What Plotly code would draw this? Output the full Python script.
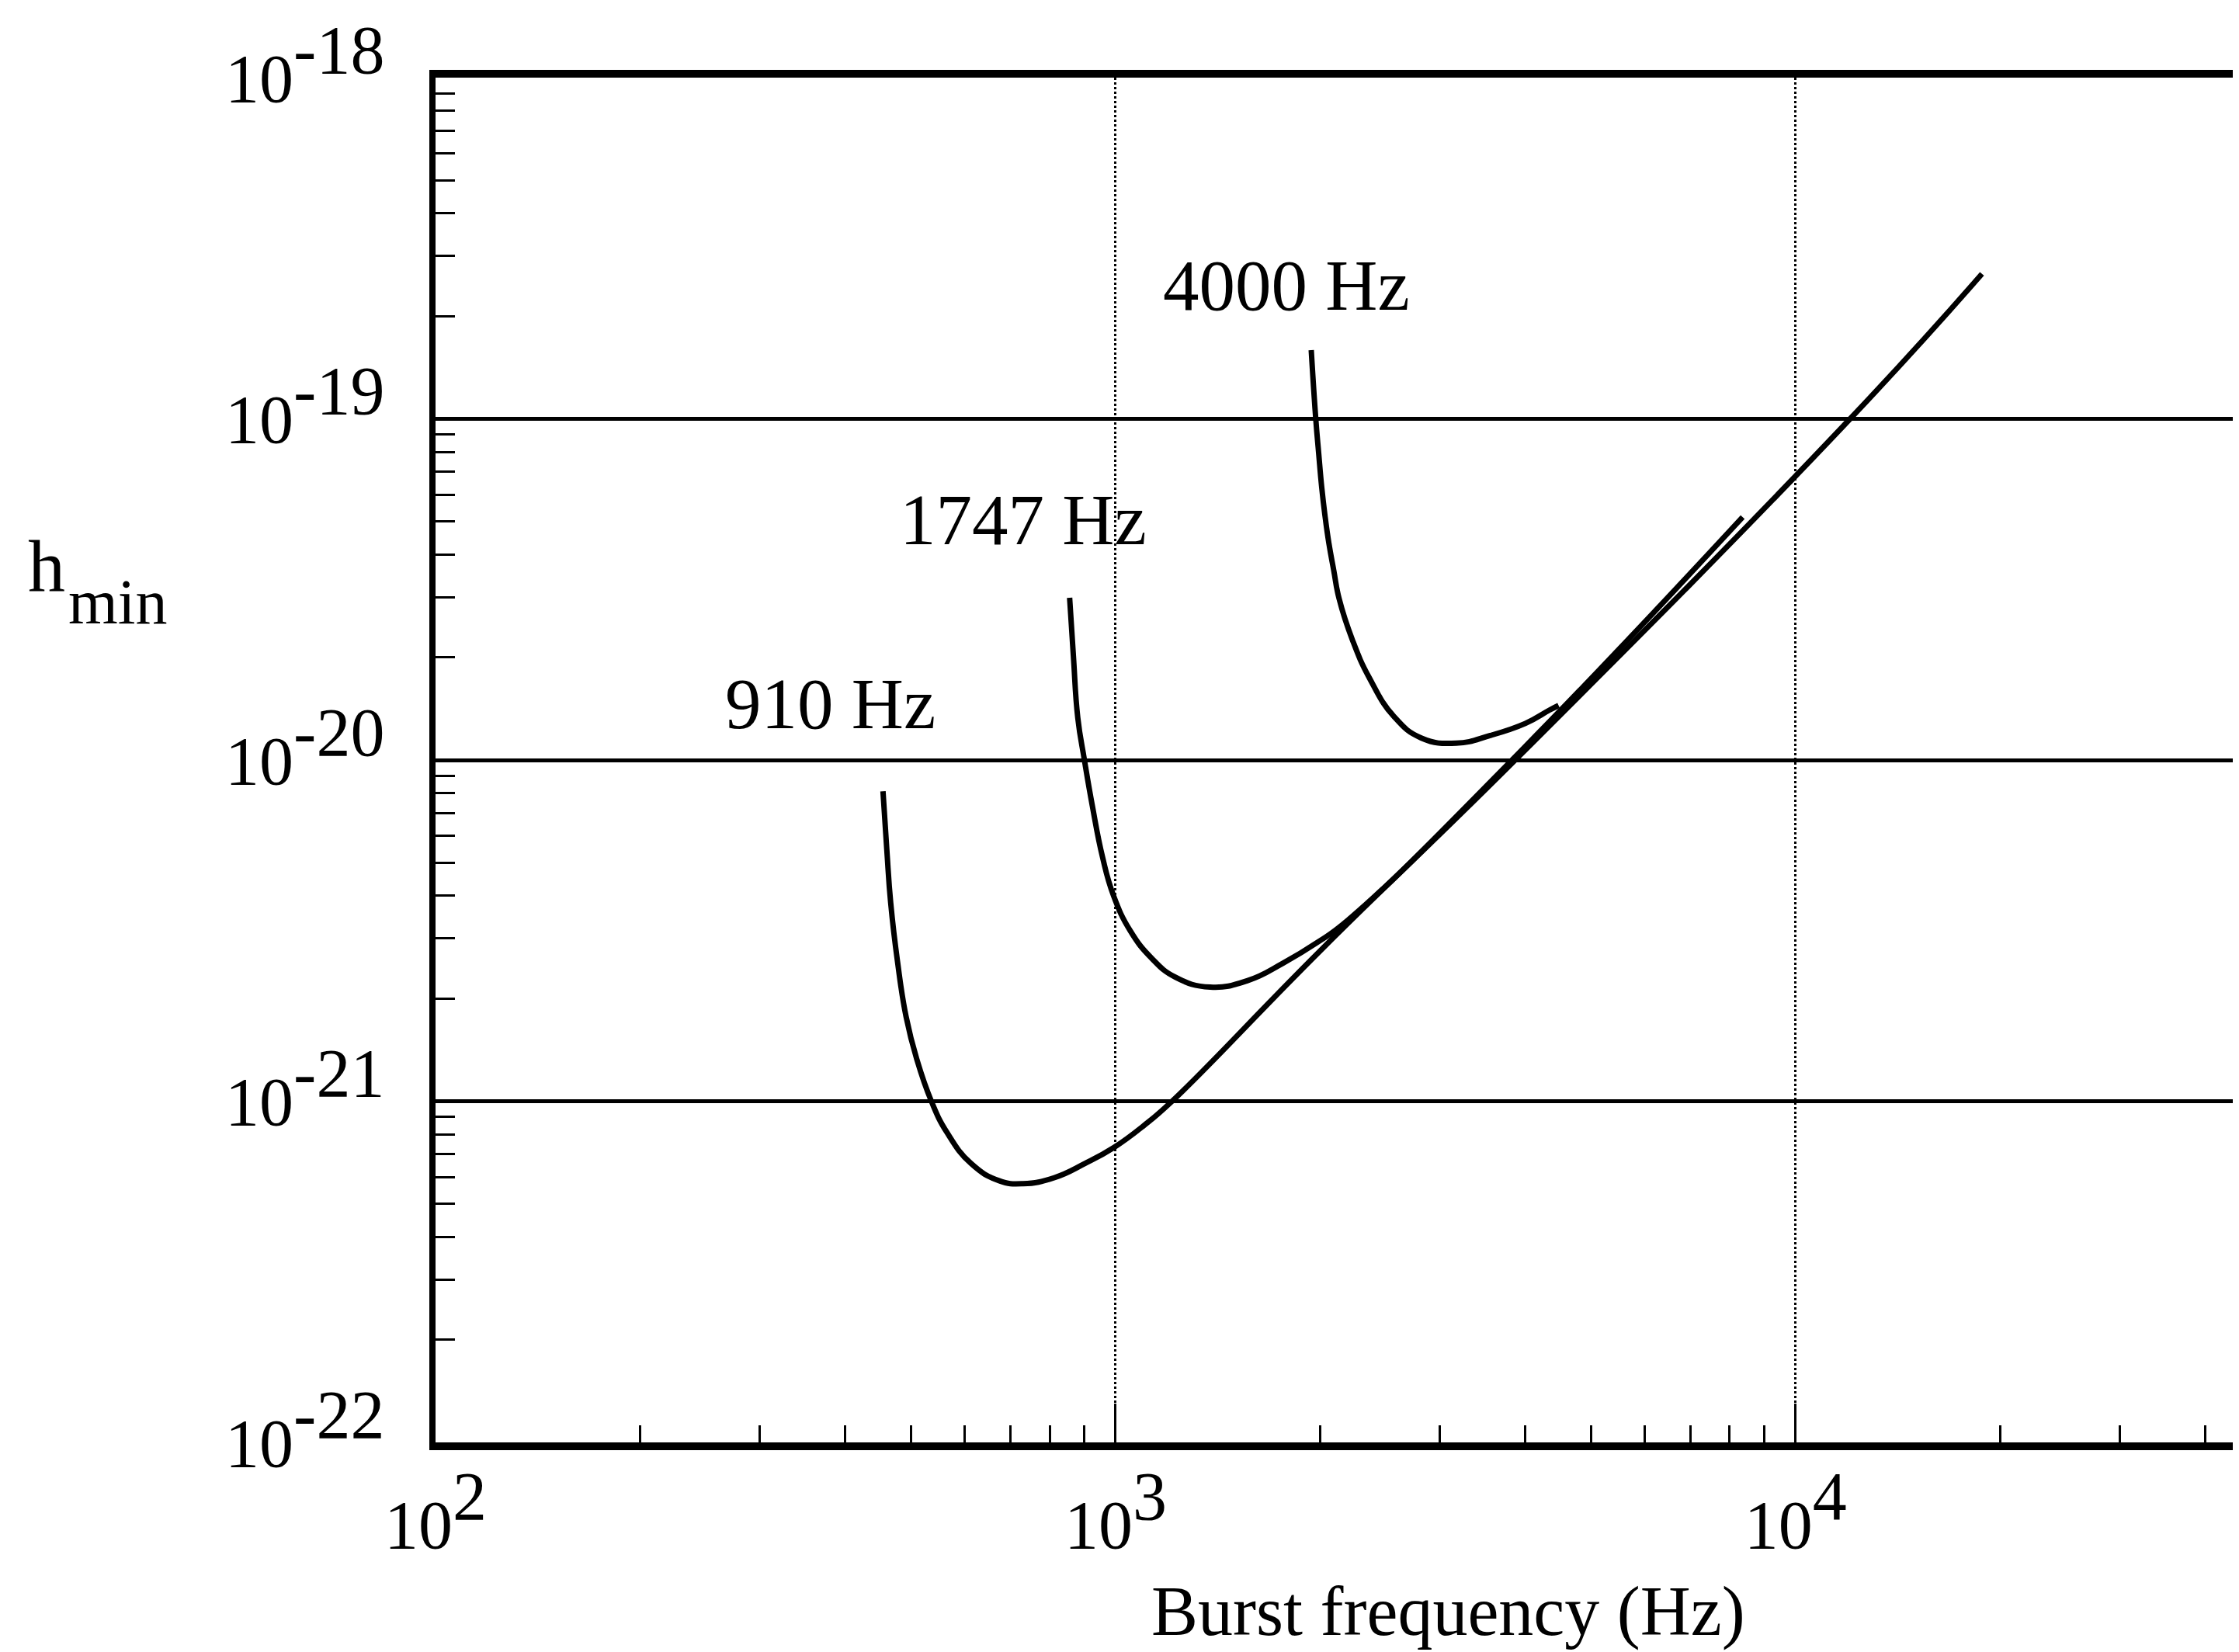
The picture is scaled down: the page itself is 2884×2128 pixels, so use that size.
import math
import plotly.graph_objects as go

# ---- data (frequency in Hz, h_min dimensionless) ----
f910 = [455, 461, 467, 478, 492, 510, 536, 565, 613, 674, 731, 813, 902, 993, 1102, 1211, 2000, 3870, 12030, 18800]
h910 = [8.1e-21, 5.44e-21, 3.82e-21, 2.56e-21, 1.77e-21, 1.33e-21, 1.0e-21, 8.1e-22, 6.57e-22,
        5.85e-22, 5.73e-22, 5.97e-22, 6.57e-22, 7.3e-22, 8.5e-22, 1.0e-21, 2.76e-21, 1.0e-20, 1.0e-19, 2.66e-19]

f1747 = [856, 867, 880, 900, 924, 957, 993, 1051, 1129, 1224, 1378, 1567, 1764, 1981, 2199, 3940, 8360]
h1747 = [2.99e-20, 2.02e-20, 1.33e-20, 1.0e-20, 7.38e-21, 5.19e-21, 4.01e-21, 3.16e-21, 2.63e-21,
         2.31e-21, 2.16e-21, 2.26e-21, 2.54e-21, 2.92e-21, 3.40e-21, 1.06e-20, 5.15e-20]

f4000 = [1940, 1970, 1989, 2010, 2032, 2059, 2094, 2132, 2230, 2362, 2568, 2817, 3170, 3557, 4006, 4345, 4483]
h4000 = [1.59e-19, 1.0e-19, 7.97e-20, 6.3e-20, 5.22e-20, 4.33e-20, 3.59e-20, 2.97e-20, 2.25e-20,
         1.74e-20, 1.34e-20, 1.16e-20, 1.12e-20, 1.18e-20, 1.28e-20, 1.40e-20, 1.445e-20]

curve_labels = ["910 Hz", "1747 Hz", "4000 Hz"]
label_f = [381, 731, 1782]
label_h = [1.46e-20, 5.07e-20, 2.46e-19]

x_tick_exp = [2, 3, 4]
y_tick_exp = [-22, -21, -20, -19, -18]

FONT = "Liberation Serif"
FS = 88

fig = go.Figure()
for fx, hy in [(f910, h910), (f1747, h1747), (f4000, h4000)]:
    fig.add_trace(go.Scatter(x=fx, y=hy, mode="lines",
                             line=dict(color="black", width=7, shape="spline", smoothing=1.3),
                             showlegend=False, hoverinfo="skip"))

def sup_label(e):
    return "10<sup><span style='font-size:%dpx'>%d</span></sup>" % (FS, e)

fig.update_layout(
    width=2884, height=2128,
    margin=dict(l=553, r=2, t=92, b=278),
    paper_bgcolor="white", plot_bgcolor="white",
    font=dict(family=FONT, size=FS, color="black"),
    showlegend=False,
)

fig.update_xaxes(
    type="log", range=[2, 4.659],
    tickvals=[10 ** e for e in x_tick_exp], ticktext=[sup_label(e) for e in x_tick_exp],
    ticks="inside", ticklen=50, tickwidth=3, tickcolor="black",
    minor=dict(ticks="inside", ticklen=22, tickwidth=3, tickcolor="black", dtick="D1", showgrid=False),
    showgrid=True, gridcolor="black", gridwidth=3, griddash="dot",
    showline=True, linecolor="black", linewidth=10, mirror=True,
    ticklabelstandoff=20,
    tickfont=dict(family=FONT, size=FS, color="black"),
)
fig.update_yaxes(
    type="log", range=[-22, -18],
    tickvals=[10.0 ** e for e in y_tick_exp], ticktext=[sup_label(e) for e in y_tick_exp],
    ticks="inside", ticklen=25, tickwidth=3, tickcolor="black",
    minor=dict(ticks="inside", ticklen=25, tickwidth=3, tickcolor="black", dtick="D1", showgrid=False),
    showgrid=True, gridcolor="black", gridwidth=5,
    showline=True, linecolor="black", linewidth=8, mirror=False,
    ticklabelstandoff=40,
    tickfont=dict(family=FONT, size=FS, color="black"),
)

# right border (thin)
fig.add_shape(type="line", xref="paper", yref="paper", x0=1, x1=1, y0=0, y1=1,
              line=dict(color="black", width=3))

# curve labels (log axes: annotation positions are given as log10 of the values)
for t, fx, hy in zip(curve_labels, label_f, label_h):
    fig.add_annotation(x=math.log10(fx), y=math.log10(hy), xref="x", yref="y", text=t,
                       showarrow=False, xanchor="center", yanchor="middle",
                       font=dict(family=FONT, size=93, color="black"))

# y-axis label h_min (horizontal)
fig.add_annotation(x=-0.2263, y=0.642, xref="paper", yref="paper", text="h", showarrow=False,
                   xanchor="left", yanchor="middle", font=dict(family=FONT, size=96, color="black"))
fig.add_annotation(x=-0.2040, y=0.6155, xref="paper", yref="paper", text="min", showarrow=False,
                   xanchor="left", yanchor="middle", font=dict(family=FONT, size=82, color="black"))

# x-axis title
fig.add_annotation(x=0.5603, y=-0.1240, xref="paper", yref="paper", text="Burst frequency (Hz)",
                   showarrow=False, xanchor="center", yanchor="middle",
                   font=dict(family=FONT, size=90, color="black"))

fig.write_html("out.html", config={"displayModeBar": False})
